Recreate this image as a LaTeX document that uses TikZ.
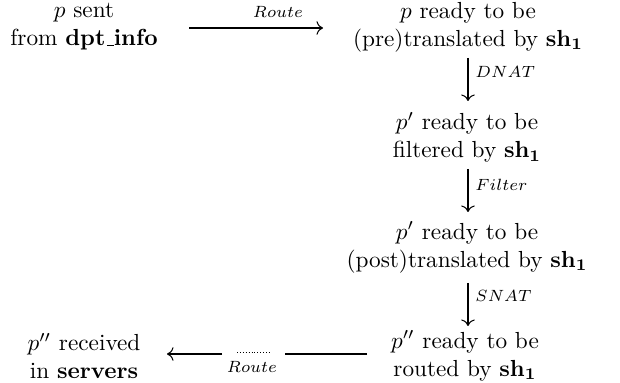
\documentclass[tikz,border=0pt]{standalone}
\usetikzlibrary{arrows.meta,cd}
\newcommand\myus{\kern.06em\vbox{\hrule width.3em}}
\begin{document}
\begin{tikzpicture}[x=0.43pt,y=-0.43pt,
  state/.style={align=center, inner sep=0pt},
  lab/.style={inner sep=0pt, font=\scriptsize},
  arr/.style={-{cm to}, line width=0.45pt},
  ln/.style={line width=0.45pt}]
\useasboundingbox (0,0) rectangle (620,383);
% nodes
\node[state] (a) at (84,27) {$p$ sent\\ from \textbf{dpt\myus info}};
\node[state] (b) at (468,27) {$p$ ready to be\\ (pre)translated by $\mathbf{sh_1}$};
\node[state] (c) at (467,137.5) {$p'$ ready to be\\ filtered by $\mathbf{sh_1}$};
\node[state] (d) at (467,247.5) {$p'$ ready to be\\ (post)translated by $\mathbf{sh_1}$};
\node[state] (e) at (465,356) {$p''$ ready to be\\ routed by $\mathbf{sh_1}$};
\node[state] (f) at (84,356) {$p''$ received\\ in \textbf{servers}};
% connector end points
\coordinate (a1) at (189,28);
\coordinate (b1) at (323,28);
\coordinate (b2) at (468,58);
\coordinate (c1) at (468,101);
\coordinate (c2) at (468,169);
\coordinate (d1) at (468,212);
\coordinate (d2) at (468,283);
\coordinate (e1) at (468,326);
\coordinate (e2) at (367,354);
\coordinate (g1) at (285,354);
\coordinate (g2) at (222,354);
\coordinate (f1) at (167,354);
% connectors
\draw[arr] (a1) -- (b1);
\node[lab, anchor=base] (l1) at (278,18) {$Route$};
\draw[arr] (b2) -- (c1);
\node[lab, anchor=base west] (l2) at (475,78) {$DNAT$};
\draw[arr] (c2) -- (d1);
\node[lab, anchor=base west] (l3) at (475,191) {$Filter$};
\draw[arr] (d2) -- (e1);
\node[lab, anchor=base west] (l4) at (475,302) {$SNAT$};
\draw[ln] (e2) -- (g1);
\draw[arr] (g2) -- (f1);
\draw[line width=0.35pt, dash pattern=on 0.35pt off 0.9pt] (237,352) -- (270,352);
\node[lab, anchor=base] (l5) at (252,373) {$Route$};
\end{tikzpicture}
\end{document}
